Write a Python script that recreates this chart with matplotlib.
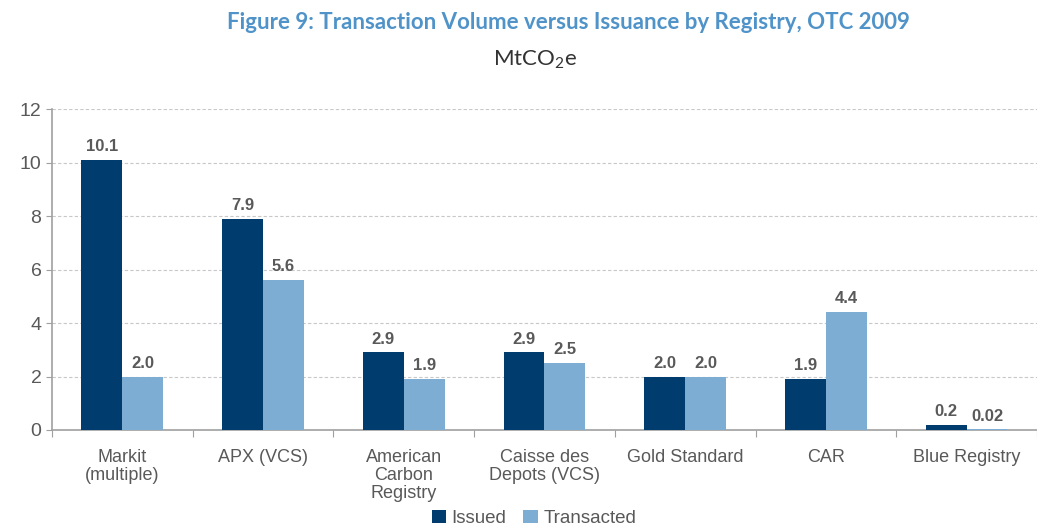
import matplotlib.pyplot as plt
import numpy as np

categories = ["Markit\n(multiple)", "APX (VCS)", "American\nCarbon\nRegistry",
              "Caisse des\nDepots (VCS)", "Gold Standard", "CAR", "Blue Registry"]
issued = [10.1, 7.9, 2.9, 2.9, 2.0, 1.9, 0.2]
transacted = [2.0, 5.6, 1.9, 2.5, 2.0, 4.4, 0.02]
issued_labels = ["10.1", "7.9", "2.9", "2.9", "2.0", "1.9", "0.2"]
transacted_labels = ["2.0", "5.6", "1.9", "2.5", "2.0", "4.4", "0.02"]

DARK = "#003d6e"
LIGHT = "#7eadd3"
GRAY = "#595959"

plt.rcParams["font.family"] = ["Liberation Sans", "DejaVu Sans"]
plt.rcParams["mathtext.fontset"] = "custom"
plt.rcParams["mathtext.rm"] = "Lato"

fig = plt.figure(figsize=(10.37, 5.25), dpi=100)
ax = fig.add_axes([0.050, 0.181, 0.95, 0.611])

x = np.arange(len(categories))
w = 0.29
ax.bar(x - w / 2, issued, w, color=DARK, label="Issued", zorder=3)
ax.bar(x + w / 2, transacted, w, color=LIGHT, label="Transacted", zorder=3)

# value labels above each bar
for i in range(len(categories)):
    ax.text(x[i] - w / 2, issued[i] + 0.22, issued_labels[i], ha="center", va="bottom",
            fontsize=12, fontweight="bold", color=GRAY)
    ax.text(x[i] + w / 2, transacted[i] + 0.22, transacted_labels[i],
            ha="center", va="bottom", fontsize=12, fontweight="bold", color=GRAY)

ax.set_xlim(-0.5, len(categories) - 0.5)
ax.set_ylim(0, 12)
ax.set_yticks(range(0, 13, 2))
ax.tick_params(axis="y", labelsize=14, colors=GRAY, length=4, color="#a0a0a0")
ax.yaxis.grid(True, linestyle=(0, (3, 2)), color="#c8c8c8", linewidth=0.8, zorder=0)

ax.set_xticks(np.arange(-0.5, len(categories), 1))
ax.set_xticklabels([])
ax.set_xticks(x, minor=True)
ax.set_xticklabels(categories, minor=True, fontsize=13, color=GRAY, linespacing=1.05)
ax.tick_params(axis="x", which="major", length=5, color="#a0a0a0", direction="out")
ax.tick_params(axis="x", which="minor", length=0, pad=14)

for s in ["top", "right"]:
    ax.spines[s].set_visible(False)
ax.spines["left"].set_color("#a0a0a0")
ax.spines["bottom"].set_color("#a0a0a0")
ax.spines["left"].set_linewidth(1.2)
ax.spines["bottom"].set_linewidth(1.2)

leg = fig.legend(loc="lower center", bbox_to_anchor=(0.515, -0.036), ncol=2, frameon=False,
                 fontsize=13.5, handlelength=0.75, handleheight=0.75, handletextpad=0.3,
                 columnspacing=0.9)
for t in leg.get_texts():
    t.set_color(GRAY)

fig.text(0.548, 0.958, "Figure 9: Transaction Volume versus Issuance by Registry, OTC 2009",
         ha="center", va="center", fontsize=16, fontweight="bold", color="#4f93c8",
         family=["Lato", "DejaVu Sans"])
fig.text(0.516, 0.886, r"MtCO$_2$e", ha="center", va="center", fontsize=16, color="#333333",
         family=["Lato", "DejaVu Sans"])

fig.savefig("out.png", dpi=100)
